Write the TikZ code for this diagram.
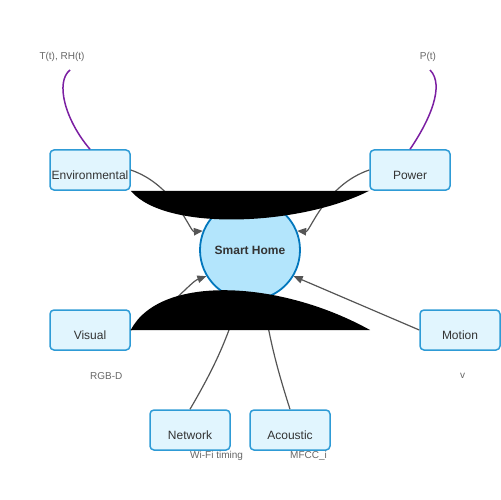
\documentclass[tikz,border=0pt]{standalone}
\usepackage{fontspec}
\setmainfont{Liberation Sans}
\usetikzlibrary{arrows.meta}
\definecolor{boxfill}{HTML}{E1F5FE}
\definecolor{boxline}{HTML}{2E9BD6}
\definecolor{hubfill}{HTML}{B3E5FC}
\definecolor{hubline}{HTML}{0277BD}
\definecolor{inkgray}{HTML}{333333}
\definecolor{linkgray}{HTML}{555555}
\definecolor{taggray}{HTML}{666666}
\definecolor{feedpurple}{HTML}{7B1FA2}
\begin{document}
\begin{tikzpicture}[x=1bp,y=-1bp,
  box/.style={draw=boxline,fill=boxfill,line width=1.5bp,rounded corners=4bp,minimum width=80bp,minimum height=40bp,inner sep=0pt,text=inkgray,font=\fontsize{12bp}{14bp}\selectfont,text height=18.6bp,text depth=0pt},
  hub/.style={circle,draw=hubline,fill=hubfill,line width=1.8bp,minimum size=100bp,inner sep=0pt,text=inkgray,font=\fontsize{12bp}{14bp}\selectfont\bfseries},
  link/.style={draw=linkgray,line width=1.2bp,-{Triangle[length=9bp,width=7.5bp]}},
  feed/.style={draw=feedpurple,line width=1.5bp},
  tag/.style={text=taggray,font=\fontsize{10bp}{12bp}\selectfont,inner sep=0pt},
  blob/.style={fill=black,draw=none}]
\useasboundingbox (0,0) rectangle (500,500);
\node[hub] (home) at (250,250) {Smart Home};
\node[box] (env) at (90,170) {Environmental};
\node[box] (pow) at (410,170) {Power};
\node[box] (vis) at (90,330) {Visual};
\node[box] (mot) at (460,330) {Motion};
\node[box] (net) at (190,430) {Network};
\node[box] (aco) at (290,430) {Acoustic};
\node[tag] (envtag) at (62,57) {T(t), RH(t)};
\node[tag] (powtag) at (428,57) {P(t)};
\node[tag,anchor=west] (vistag) at (90,376) {RGB-D};
\node[tag,anchor=west] (mottag) at (460,376) {v};
\node[tag,anchor=west] (nettag) at (190,456) {Wi-Fi timing};
\node[tag,anchor=west] (acotag) at (290,456) {MFCC\_i};
\coordinate (envsig) at (70,70);
\coordinate (powsig) at (430,70);
\draw[feed] (env.north) .. controls (65,120) and (55,82) .. (envsig);
\draw[feed] (pow.north) .. controls (430,120) and (445,85) .. (powsig);
\draw[link] (env.east) .. controls (175,185) and (190,232) .. (home.158);
\draw[link] (pow.west) .. controls (325,185) and (310,232) .. (home.22);
\draw[link] (vis.east) .. controls (165,315) and (190,282) .. (home.211);
\draw[link] (mot.west) -- (home.329);
\draw[link] (net.north) to[bend right=6] (home.258);
\draw[link] (aco.north) to[bend left=4] (home.285);
\fill[blob] (env.south east) .. controls (165,232) and (300,226) .. (pow.south west) -- cycle;
\fill[blob] (vis.east) .. controls (160,274) and (280,280) .. (370,330) -- cycle;
\end{tikzpicture}
\end{document}
